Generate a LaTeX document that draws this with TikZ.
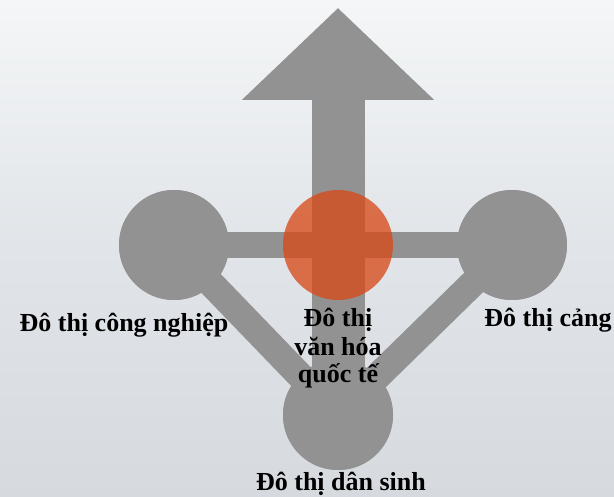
\documentclass[tikz,border=0pt]{standalone}
\usepackage{fontspec}
\setmainfont{Liberation Serif}
\usetikzlibrary{arrows.meta}
\definecolor{bgtop}{RGB}{244,246,247}
\definecolor{bgmid}{RGB}{225,228,232}
\definecolor{bgbot}{RGB}{214,218,222}
\definecolor{barg}{RGB}{146,146,146}
\definecolor{hubor}{RGB}{216,72,22}
\tikzset{
  hub/.style={circle,fill=barg,minimum size=110pt,inner sep=0pt},
  core/.style={circle,fill=hubor,fill opacity=0.76,minimum size=110pt,inner sep=0pt},
  link/.style={draw=barg,line width=27pt},
  hlink/.style={draw=barg,line width=26pt},
  lab/.style={font=\fontsize{26}{28}\selectfont\bfseries,text=black,inner sep=0pt,anchor=base,align=center}
}
\begin{document}
\begin{tikzpicture}[x=1pt,y=-1pt]
\useasboundingbox (0,0) rectangle (614,497);
\shade[top color=bgtop,bottom color=bgbot,middle color=bgmid] (0,0) rectangle (614,497);
% circles (positions)
\node[hub] (L) at (174,245) {};
\node[hub] (R) at (512,245) {};
\node[hub] (B) at (338,415) {};
\coordinate (T) at (338,8);
% connectors
\path[link] (L.center) -- (B.center);
\path[link] (R.center) -- (B.center);
\path[hlink] (L.center) -- (R.center);
\draw[barg,line width=53pt,-{Triangle[length=92pt,width=187pt]}] (B.center) -- (T);
% redraw circles on top
\node[hub] at (L) {};
\node[hub] at (R) {};
\node[hub] at (B) {};
\node[core] (C) at (338,245) {};
% labels
\node[lab] (tL) at (124,332) {Đô thị công nghiệp};
\node[lab] (tR) at (548,327) {Đô thị cảng};
\node[lab] (tC) at (338,383) {Đô thị\\văn hóa\\quốc tế};
\node[lab] (tB) at (341,490) {Đô thị dân sinh};
\end{tikzpicture}
\end{document}
